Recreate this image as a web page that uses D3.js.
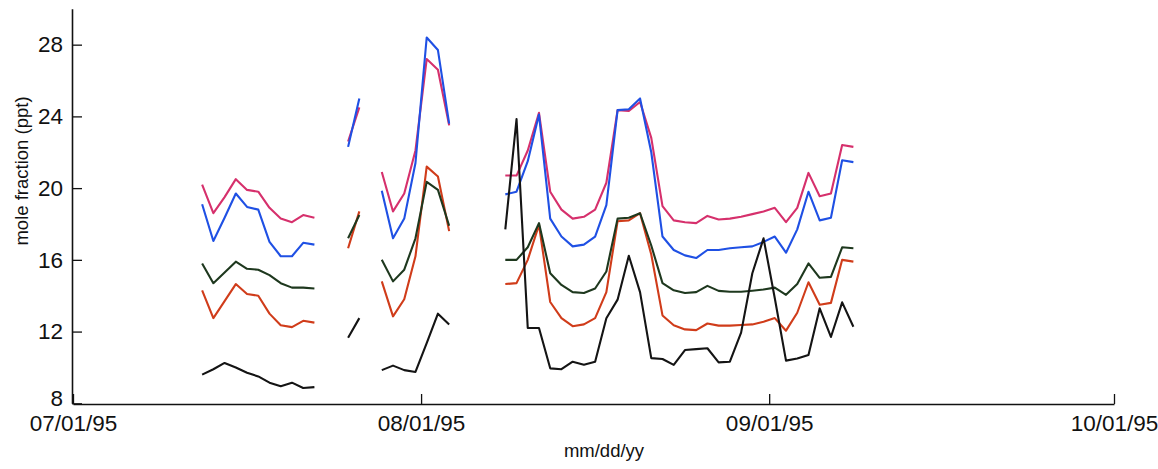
<!DOCTYPE html>
<html>
<head>
<meta charset="utf-8">
<script src="https://cdn.jsdelivr.net/npm/d3@7/dist/d3.min.js"></script>
<style>
  html, body { margin: 0; padding: 0; background: #ffffff; }
  svg { display: block; font-family: "Liberation Sans", Arial, Helvetica, sans-serif; }
</style>
</head>
<body>
<svg id="chart" width="1158" height="469"></svg>
<script>
// ---- data (daily samples at noon, null = no data) ----
const days = [
  "07/12","07/13","07/14","07/15","07/16","07/17","07/18","07/19","07/20","07/21","07/22",
  "07/23","07/24","07/25","07/26","07/27",
  "07/28","07/29","07/30","07/31","08/01","08/02","08/03",
  "08/04","08/05","08/06","08/07",
  "08/08","08/09","08/10","08/11","08/12","08/13","08/14","08/15","08/16","08/17",
  "08/18","08/19","08/20","08/21","08/22","08/23","08/24","08/25","08/26","08/27",
  "08/28","08/29","08/30","08/31","09/01","09/02","09/03","09/04","09/05","09/06",
  "09/07","09/08"
];
const magenta = [
  20.2, 18.6, 19.5, 20.5, 19.9, 19.8, 18.9, 18.3, 18.1, 18.5, 18.35,
  null, null, 22.6, 24.5, null,
  20.9, 18.7, 19.7, 22.1, 27.2, 26.6, 23.5,
  null, null, null, null,
  20.7, 20.7, 22.1, 24.2, 19.8, 18.8, 18.3, 18.4, 18.8, 20.3,
  24.35, 24.3, 24.8, 22.8, 19.0, 18.2, 18.1, 18.05, 18.45, 18.25,
  18.3, 18.4, 18.55, 18.7, 18.9, 18.1, 18.9, 20.85, 19.55, 19.7,
  22.4, 22.3
];
const blue = [
  19.1, 17.05, 18.35, 19.7, 18.95, 18.8, 17.0, 16.2, 16.2, 16.95, 16.85,
  null, null, 22.3, 25.0, null,
  19.85, 17.2, 18.3, 21.4, 28.4, 27.7, 23.6,
  null, null, null, null,
  19.65, 19.8, 21.5, 24.1, 18.3, 17.3, 16.75, 16.85, 17.3, 19.05,
  24.35, 24.4, 25.0, 22.0, 17.3, 16.55, 16.25, 16.1, 16.55, 16.55,
  16.65, 16.7, 16.75, 17.0, 17.3, 16.4, 17.7, 19.8, 18.2, 18.35,
  21.55, 21.45
];
const darkGreen = [
  15.8, 14.7, 15.3, 15.9, 15.5, 15.45, 15.15, 14.7, 14.45, 14.45, 14.4,
  null, null, 17.2, 18.5, null,
  16.0, 14.8, 15.45, 17.2, 20.35, 19.9, 17.9,
  null, null, null, null,
  16.0, 16.0, 16.7, 18.05, 15.25, 14.6, 14.2, 14.15, 14.4, 15.35,
  18.3, 18.35, 18.6, 16.8, 14.7, 14.3, 14.15, 14.2, 14.55, 14.27,
  14.22, 14.22, 14.28, 14.35, 14.45, 14.05, 14.65, 15.8, 15.0, 15.05,
  16.7, 16.65
];
const red = [
  14.3, 12.75, 13.7, 14.65, 14.1, 14.0, 13.0, 12.35, 12.25, 12.6, 12.5,
  null, null, 16.65, 18.7, null,
  14.8, 12.85, 13.8, 16.2, 21.2, 20.65, 17.6,
  null, null, null, null,
  14.65, 14.7, 16.0, 17.95, 13.65, 12.75, 12.3, 12.4, 12.75, 14.2,
  18.15, 18.2, 18.6, 16.3, 12.9, 12.35, 12.12, 12.08, 12.45, 12.33,
  12.33, 12.37, 12.4, 12.55, 12.75, 12.05, 13.05, 14.75, 13.5, 13.6,
  16.0, 15.9
];
const black = [
  9.6, 9.9, 10.25, 10.0, 9.7, 9.5, 9.15, 8.95, 9.15, 8.85, 8.9,
  null, null, 11.65, 12.75, null,
  9.85, 10.1, 9.85, 9.75, 11.35, 13.0, 12.4,
  null, null, null, null,
  17.7, 23.85, 12.2, 12.2, 9.95, 9.9, 10.32, 10.15, 10.32, 12.74,
  13.78, 16.23, 14.2, 10.52, 10.47, 10.14, 10.97, 11.02, 11.07, 10.28,
  10.32, 11.94, 15.25, 17.2, 13.86, 10.38, 10.5, 10.7, 13.3, 11.7,
  13.63, 12.27
];
const xTickLabels = ["07/01/95", "08/01/95", "09/01/95", "10/01/95"];
const yTickValues = [8, 12, 16, 20, 24, 28];

// ---- drawing ----
const svg = d3.select("#chart");
const parseDay = d3.timeParse("%m/%d/%y %H");
const parseTick = d3.timeParse("%m/%d/%y");
const fmtTick = d3.timeFormat("%m/%d/%y");

const x = d3.scaleTime()
  .domain([parseTick("07/01/95"), parseTick("09/09/95"), parseTick("10/01/95")])
  .range([73, 859, 1114]);
const y = d3.scaleLinear().domain([8, 30]).range([403.3, 8.8]);

const dates = days.map(d => parseDay(d + "/95 12"));

const series = [
  { values: magenta,   color: "#d6306c" },
  { values: blue,      color: "#1f50e4" },
  { values: red,       color: "#d03c1a" },
  { values: darkGreen, color: "#1e381e" },
  { values: black,     color: "#141414" }
];

const line = d3.line()
  .defined(d => d.v != null)
  .x(d => x(d.t))
  .y(d => y(d.v));

svg.append("g").selectAll("path")
  .data(series)
  .join("path")
  .attr("fill", "none")
  .attr("stroke", s => s.color)
  .attr("stroke-width", 2.1)
  .attr("stroke-linejoin", "round")
  .attr("d", s => line(s.values.map((v, i) => ({ t: dates[i], v }))));

// axes
const xAxis = d3.axisBottom(x)
  .tickValues(xTickLabels.map(parseTick))
  .tickFormat(d => fmtTick(d))
  .tickSizeInner(-10).tickSizeOuter(0).tickPadding(11);
const gx = svg.append("g").attr("transform", "translate(0,404)").call(xAxis);

const yAxis = d3.axisLeft(y)
  .tickValues(yTickValues)
  .tickSizeInner(-10).tickSizeOuter(0).tickPadding(9);
const gy = svg.append("g").attr("transform", "translate(72,0)").call(yAxis);

[gx, gy].forEach(g => {
  g.select(".domain").attr("stroke", "#111").attr("stroke-width", 1.6);
  g.selectAll(".tick line").attr("stroke", "#111").attr("stroke-width", 1.3);
  g.selectAll(".tick text").attr("fill", "#111")
    .style("font-size", "22.5px")
    .style("font-family", '"Liberation Sans", Arial, Helvetica, sans-serif');
});
// lift the corner "8" label slightly so it sits just above the date label
gy.selectAll(".tick text").filter(d => d === 8).attr("dy", "0.1em");

svg.append("text")
  .attr("x", 604).attr("y", 457)
  .attr("text-anchor", "middle")
  .attr("fill", "#111")
  .style("font-size", "18.5px")
  .text("mm/dd/yy");

svg.append("text")
  .attr("transform", "translate(28,171) rotate(-90)")
  .attr("text-anchor", "middle")
  .attr("fill", "#111")
  .style("font-size", "18.5px")
  .text("mole fraction (ppt)");
</script>
</body>
</html>
